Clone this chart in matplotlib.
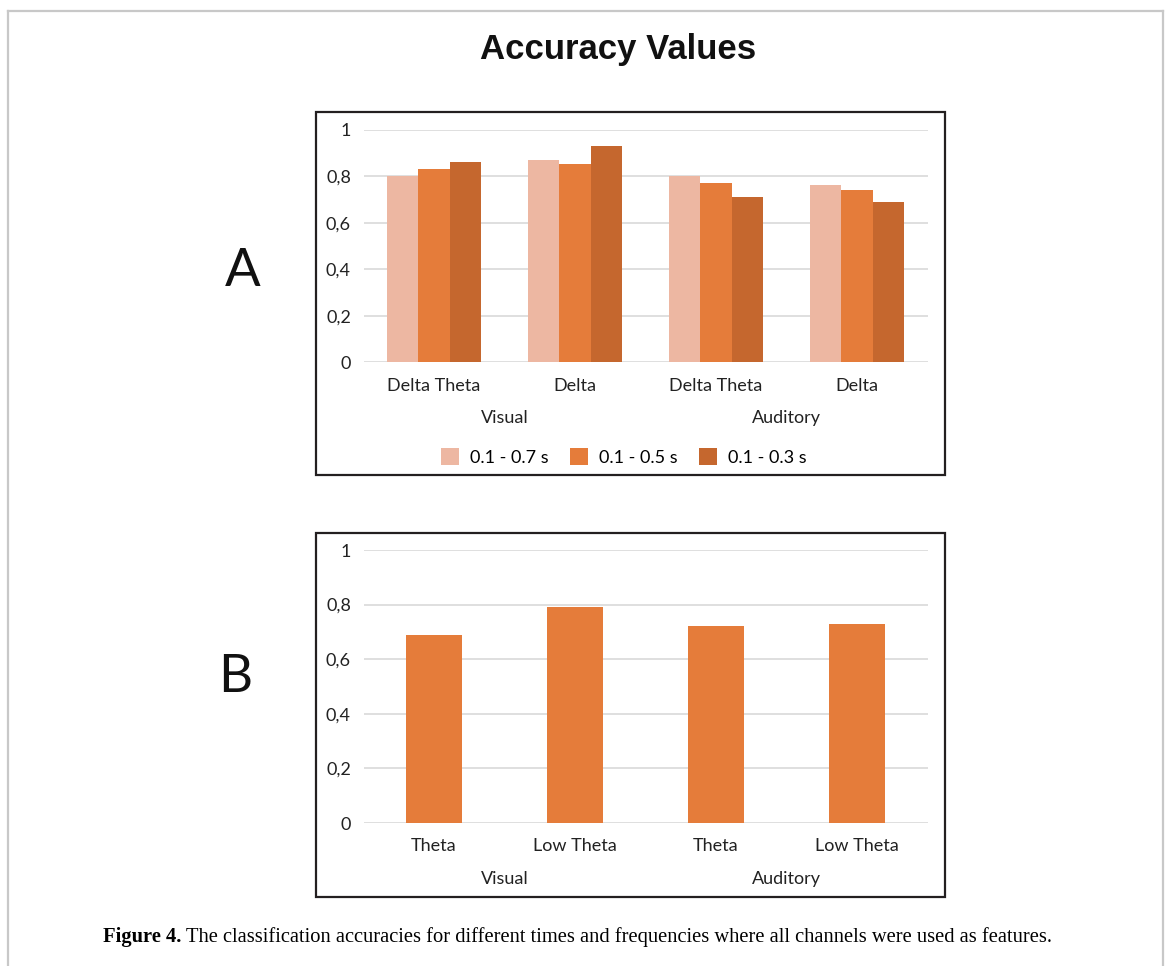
import matplotlib
matplotlib.use("Agg")
import numpy as np
from matplotlib import pyplot as plt
from matplotlib.patches import Rectangle
from matplotlib.lines import Line2D

# Panel A data
cats_a = ["Delta Theta", "Delta", "Delta Theta", "Delta"]
groups = ["Visual", "Auditory"]
series_names = ["0.1 - 0.7 s", "0.1 - 0.5 s", "0.1 - 0.3 s"]
acc_07 = [0.80, 0.87, 0.80, 0.76]
acc_05 = [0.83, 0.85, 0.77, 0.74]
acc_03 = [0.86, 0.93, 0.71, 0.69]

# Panel B data
cats_b = ["Theta", "Low Theta", "Theta", "Low Theta"]
acc_b = [0.69, 0.79, 0.72, 0.73]

yticks = [0, 0.2, 0.4, 0.6, 0.8, 1.0]
ytick_labels = ["0", "0,2", "0,4", "0,6", "0,8", "1"]

colors = ["#EDB7A2", "#E57C3A", "#C5672E"]
W, H = 1167, 966
chart_font = "Lato"


def fx(px):
    return px / W


def fy(py):
    return 1 - py / H


def style_axes(ax, cats):
    ax.set_xlim(-0.5, 3.5)
    ax.set_ylim(0, 1)
    ax.set_yticks(yticks)
    ax.set_yticklabels(ytick_labels, fontsize=13, family=chart_font, color="#222222")
    ax.set_xticks(range(len(cats)))
    ax.set_xticklabels(cats, fontsize=13, family=chart_font, color="#222222")
    ax.tick_params(axis="both", length=0)
    ax.tick_params(axis="y", pad=9)
    ax.tick_params(axis="x", pad=11)
    for s in ax.spines.values():
        s.set_visible(False)
    ax.yaxis.grid(True, color="#d9d9d9", linewidth=1.2)
    ax.set_axisbelow(True)
    for g, xc in zip(groups, [0.5, 2.5]):
        ax.annotate(g, xy=(xc, 0), xycoords=("data", "axes fraction"),
                    xytext=(0, -40), textcoords="offset points",
                    ha="center", va="center", fontsize=13,
                    family=chart_font, color="#222222")


fig = plt.figure(figsize=(W / 100, H / 100), dpi=100)

# outer gray frame (open at the bottom)
for xs, ys in [([8, 8], [11, H]), ([8, 1163], [11, 11]), ([1163, 1163], [11, H])]:
    fig.add_artist(Line2D([fx(v) for v in xs], [fy(v) for v in ys],
                          color="#c8c8c8", linewidth=1.6))

fig.text(fx(618), fy(50), "Accuracy Values", ha="center", va="center",
         fontsize=25, fontweight="bold", family="Liberation Sans", color="#111111")

# panel boxes
for top, bottom in [(112, 475), (533, 897)]:
    fig.add_artist(Rectangle((fx(316), fy(bottom)), fx(945) - fx(316),
                             fy(top) - fy(bottom), fill=False,
                             edgecolor="#231f20", linewidth=1.6))

# Panel A
ax_a = fig.add_axes([fx(363.5), fy(362.5), fx(927.5) - fx(363.5), fy(129.5) - fy(362.5)])
x = np.arange(len(cats_a))
bw = 0.222
for i, (vals, name) in enumerate(zip([acc_07, acc_05, acc_03], series_names)):
    ax_a.bar(x + (i - 1) * bw, vals, width=bw, color=colors[i], label=name, zorder=2)
style_axes(ax_a, cats_a)
handles, labels = ax_a.get_legend_handles_labels()
fig.legend(handles, labels, loc="center", bbox_to_anchor=(fx(624), fy(457)),
           ncol=3, frameon=False, handlelength=1.0, handleheight=1.0,
           handletextpad=0.6, columnspacing=1.2,
           prop={"family": chart_font, "size": 13})

# Panel B
ax_b = fig.add_axes([fx(363.5), fy(823), fx(927.5) - fx(363.5), fy(550) - fy(823)])
ax_b.bar(np.arange(len(cats_b)), acc_b, width=0.4, color=colors[1], zorder=2)
style_axes(ax_b, cats_b)

# panel letters
fig.text(fx(243), fy(272), "A", ha="center", va="center", fontsize=38,
         family=chart_font, color="#111111")
fig.text(fx(235), fy(678), "B", ha="center", va="center", fontsize=38,
         family=chart_font, color="#111111")

# caption
cap_bold = fig.text(fx(103), fy(937), "Figure 4.", ha="left", va="center",
                    fontsize=14.8, fontweight="bold", family="Liberation Serif")
fig.canvas.draw()
bb = cap_bold.get_window_extent()
fig.text(bb.x1 / W + fx(5), fy(937),
         "The classification accuracies for different times and frequencies where all channels were used as features.",
         ha="left", va="center", fontsize=14.8, family="Liberation Serif")

fig.savefig("out.png", dpi=100)
